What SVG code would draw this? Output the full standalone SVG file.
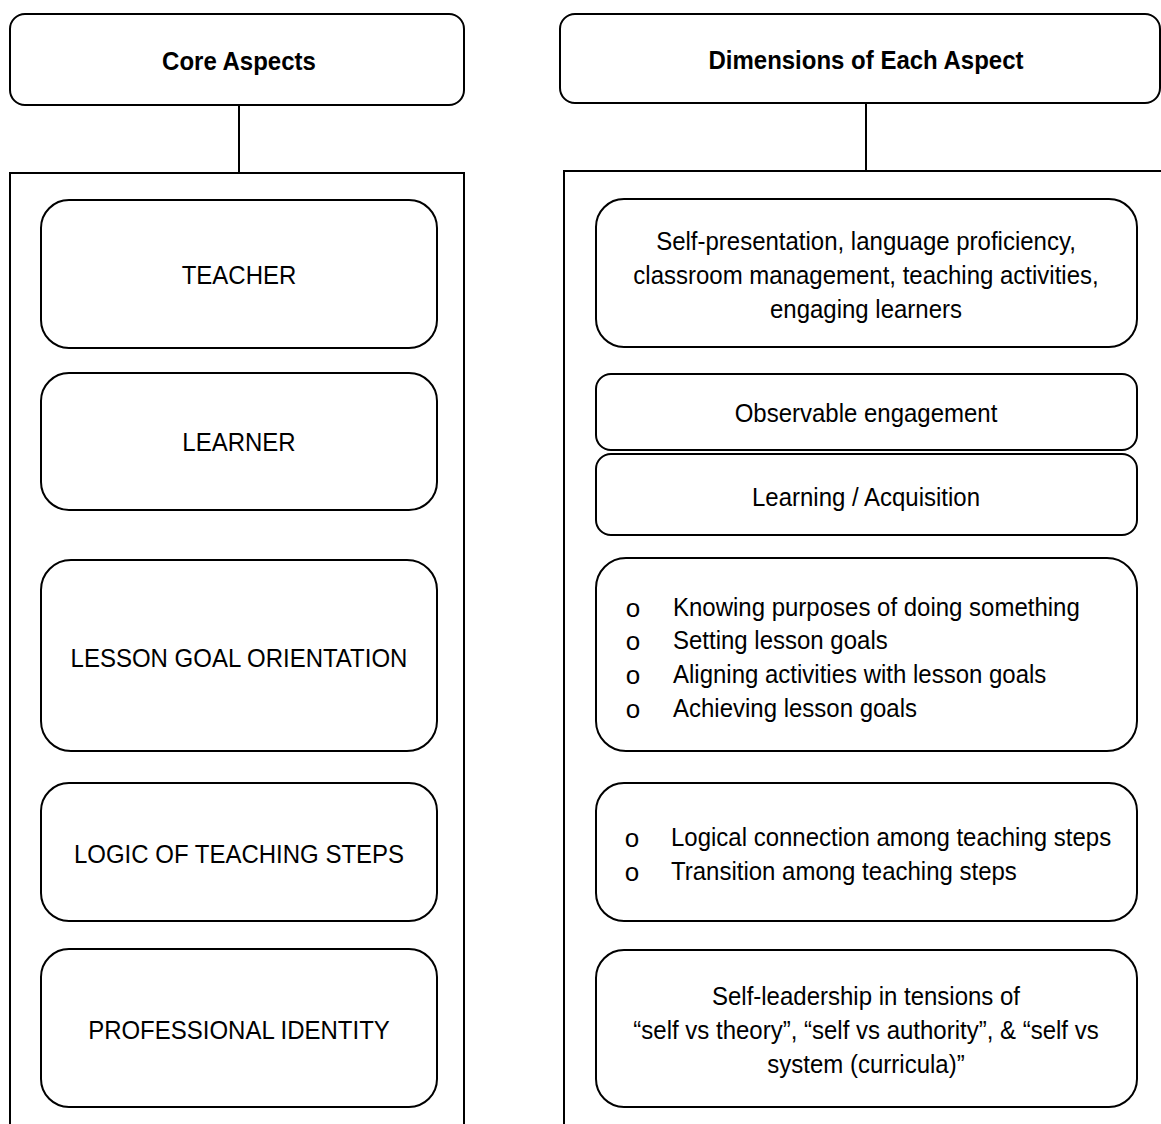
<svg xmlns="http://www.w3.org/2000/svg" width="1161" height="1124" viewBox="0 0 1161 1124">
<style>
.box{fill:#fff;stroke:#000;stroke-width:2}
.line{fill:none;stroke:#000;stroke-width:2}
text{font-family:"Liberation Sans",Arial,sans-serif;font-size:24px;fill:#000}
.h{font-weight:bold}
.c{text-anchor:middle}
.b{text-anchor:middle;font-size:26px}
</style>
<rect width="1161" height="1124" fill="#fff"/>
<g id="connectors">
<path class="line" d="M239,105 V173"/>
<path class="line" d="M866,103 V171"/>
</g>
<g id="left-column">
<path class="line" d="M10,1126 V173 H464 V1126"/>
</g>
<g id="right-column">
<path class="line" d="M564,1126 V171 H1163"/>
</g>
<g id="header-core">
<rect class="box" x="10" y="14" width="454" height="91" rx="15"/>
<text class="h c" x="239" y="70" transform="translate(0,70) scale(1,1.08) translate(0,-70)">Core Aspects</text>
</g>
<g id="header-dimensions">
<rect class="box" x="560" y="14" width="600" height="89" rx="15"/>
<text class="h c" x="866" y="69" transform="translate(0,69) scale(1,1.08) translate(0,-69)">Dimensions of Each Aspect</text>
</g>
<g id="teacher">
<rect class="box" x="41" y="200" width="396" height="148" rx="28"/>
<text class="c" x="239" y="284" transform="translate(0,284) scale(1,1.1) translate(0,-284)">TEACHER</text>
</g>
<g id="learner">
<rect class="box" x="41" y="373" width="396" height="137" rx="28"/>
<text class="c" x="239" y="451" transform="translate(0,451) scale(1,1.1) translate(0,-451)">LEARNER</text>
</g>
<g id="lesson-goal">
<rect class="box" x="41" y="560" width="396" height="191" rx="30"/>
<text class="c" x="239" y="667" transform="translate(0,667) scale(1,1.1) translate(0,-667)">LESSON GOAL ORIENTATION</text>
</g>
<g id="logic">
<rect class="box" x="41" y="783" width="396" height="138" rx="28"/>
<text class="c" x="239" y="863" transform="translate(0,863) scale(1,1.1) translate(0,-863)">LOGIC OF TEACHING STEPS</text>
</g>
<g id="identity">
<rect class="box" x="41" y="949" width="396" height="158" rx="28"/>
<text class="c" x="239" y="1039" transform="translate(0,1039) scale(1,1.1) translate(0,-1039)">PROFESSIONAL IDENTITY</text>
</g>
<g id="dim-teacher">
<rect class="box" x="596" y="199" width="541" height="148" rx="28"/>
<text class="c" x="866" y="250" transform="translate(0,250) scale(1,1.1) translate(0,-250)">Self-presentation, language proficiency,</text>
<text class="c" x="866" y="284" transform="translate(0,284) scale(1,1.1) translate(0,-284)">classroom management, teaching activities,</text>
<text class="c" x="866" y="318" transform="translate(0,318) scale(1,1.1) translate(0,-318)">engaging learners</text>
</g>
<g id="dim-engagement">
<rect class="box" x="596" y="374" width="541" height="76" rx="15"/>
<text class="c" x="866" y="422" transform="translate(0,422) scale(1,1.1) translate(0,-422)">Observable engagement</text>
</g>
<g id="dim-learning">
<rect class="box" x="596" y="454" width="541" height="81" rx="15"/>
<text class="c" x="866" y="506" transform="translate(0,506) scale(1,1.1) translate(0,-506)">Learning / Acquisition</text>
</g>
<g id="dim-goals">
<rect class="box" x="596" y="558" width="541" height="193" rx="30"/>
<text class="b" x="633" y="617">o</text>
<text x="673" y="616" transform="translate(0,616) scale(1,1.1) translate(0,-616)">Knowing purposes of doing something</text>
<text class="b" x="633" y="650">o</text>
<text x="673" y="649" transform="translate(0,649) scale(1,1.1) translate(0,-649)">Setting lesson goals</text>
<text class="b" x="633" y="684">o</text>
<text x="673" y="683" transform="translate(0,683) scale(1,1.1) translate(0,-683)">Aligning activities with lesson goals</text>
<text class="b" x="633" y="718">o</text>
<text x="673" y="717" transform="translate(0,717) scale(1,1.1) translate(0,-717)">Achieving lesson goals</text>
</g>
<g id="dim-logic">
<rect class="box" x="596" y="783" width="541" height="138" rx="28"/>
<text class="b" x="632" y="847">o</text>
<text x="671" y="846" transform="translate(0,846) scale(1,1.1) translate(0,-846)">Logical connection among teaching steps</text>
<text class="b" x="632" y="881">o</text>
<text x="671" y="880" transform="translate(0,880) scale(1,1.1) translate(0,-880)">Transition among teaching steps</text>
</g>
<g id="dim-identity">
<rect class="box" x="596" y="950" width="541" height="157" rx="28"/>
<text class="c" x="866" y="1005" transform="translate(0,1005) scale(1,1.1) translate(0,-1005)">Self-leadership in tensions of</text>
<text class="c" x="866" y="1039" transform="translate(0,1039) scale(1,1.1) translate(0,-1039)">“self vs theory”, “self vs authority”, &amp; “self vs</text>
<text class="c" x="866" y="1073" transform="translate(0,1073) scale(1,1.1) translate(0,-1073)">system (curricula)”</text>
</g>
</svg>
